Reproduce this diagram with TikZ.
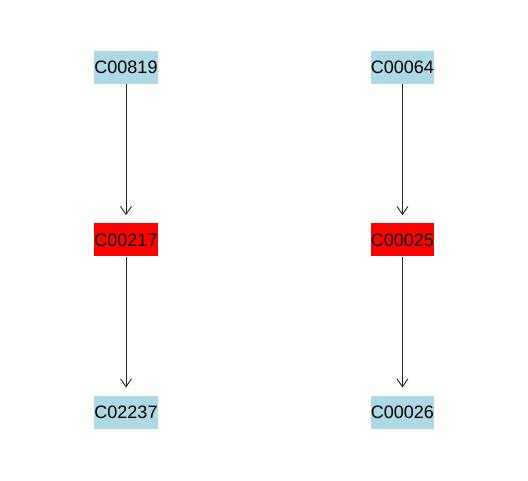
\documentclass[tikz,border=0pt]{standalone}
\usepackage{fontspec}
\setmainfont{Liberation Sans}
\usepackage{xcolor}
\usetikzlibrary{positioning,arrows.meta}

\definecolor{cpdblue}{RGB}{173,216,230}
\definecolor{cpdred}{RGB}{255,0,0}

\begin{document}
\begin{tikzpicture}[
    x=1pt, y=1pt,
    cpdnode/.style={rectangle, fill=cpdblue, minimum width=62pt, minimum height=33pt, inner sep=0pt, font=\fontsize{18}{18}\selectfont},
    hitnode/.style={cpdnode, fill=cpdred},
    link/.style={-{Straight Barb[length=8pt,width=11pt]}, draw=black!85, line width=0.9pt, shorten >=8pt}
    ]
        \useasboundingbox (0,0) rectangle (528,-480);
        %Nodes
        \node[cpdnode]
            (a1)    at (126,-67.5)  {C00819};
        \node[hitnode]
            (a2)    [below=139pt of a1]   {C00217};
        \node[cpdnode]
            (a3)    [below=139pt of a2]   {C02237};
        \node[cpdnode]
            (b1)    [right=213pt of a1]   {C00064};
        \node[hitnode]
            (b2)    [below=139pt of b1]   {C00025};
        \node[cpdnode]
            (b3)    [below=139pt of b2]   {C00026};

        %Lines
        \draw[link] (a1.south) -- (a2.north);
        \draw[link] (a2.south) -- (a3.north);
        \draw[link] (b1.south) -- (b2.north);
        \draw[link] (b2.south) -- (b3.north);
    \end{tikzpicture}
\end{document}
